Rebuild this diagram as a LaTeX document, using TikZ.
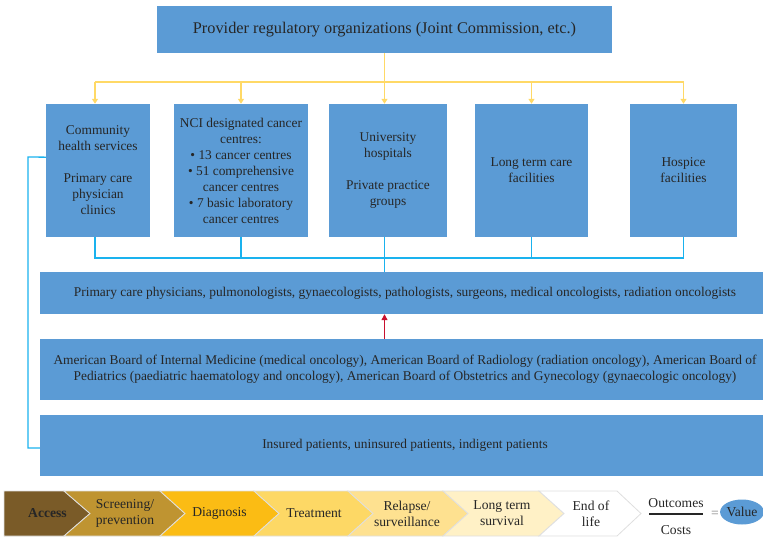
\documentclass[tikz,border=0pt]{standalone}
\usepackage{fontspec}
\setmainfont{Liberation Serif}
\usetikzlibrary{calc,shapes.geometric,arrows.meta}
\definecolor{boxblue}{HTML}{5B9BD5}
\definecolor{txt}{HTML}{262626}
\definecolor{yel}{HTML}{FFD966}
\definecolor{cyanl}{HTML}{1AB2EE}
\definecolor{redl}{HTML}{C8102E}
\definecolor{cA}{HTML}{7A5B28}
\definecolor{cB}{HTML}{BF9431}
\definecolor{cC}{HTML}{FBBC14}
\definecolor{cD}{HTML}{FDD865}
\definecolor{cE}{HTML}{FEE190}
\definecolor{cF}{HTML}{FFF1C6}
\tikzset{
  bbox/.style={fill=boxblue, draw=none, text=txt, align=center, inner sep=0pt,
    font=\fontsize{13.4}{16}\selectfont},
  yline/.style={draw=yel, line width=1.5pt},
  yarrow/.style={yline, -{Triangle[width=6pt,length=5pt]}},
  cline/.style={draw=cyanl, line width=1.3pt},
  chev/.style={draw=gray!25, line width=0.8pt},
  ctext/.style={text=txt, align=center, font=\fontsize{13.6}{16}\selectfont, inner sep=0pt},
}
\begin{document}
\begin{tikzpicture}[x=1pt,y=-1pt]
\useasboundingbox (0,0) rectangle (763,539);
% top box
\node[bbox, minimum width=455pt, minimum height=47pt, font=\fontsize{16.3}{19}\selectfont] (top) at (384.5,29.5)
  {\raisebox{3pt}{Provider regulatory organizations (Joint Commission, etc.)}};
% row of boxes
\node[bbox, minimum width=104pt, minimum height=133pt] (b1) at (98,170.5)
  {Community\\health services\\[16pt]Primary care\\physician\\clinics};
\node[bbox, minimum width=134pt, minimum height=133pt] (b2) at (241,170.5)
  {NCI designated cancer\\centres:\\\textbullet\ 13 cancer centres\\\textbullet\ 51 comprehensive\\cancer centres\\\textbullet\ 7 basic laboratory\\cancer centres};
\node[bbox, minimum width=118pt, minimum height=133pt] (b3) at (388,170.5)
  {University\\hospitals\\[16pt]Private practice\\groups};
\node[bbox, minimum width=113pt, minimum height=133pt] (b4) at (531.5,170.5)
  {Long term care\\facilities};
\node[bbox, minimum width=107pt, minimum height=133pt] (b5) at (683.5,170.5)
  {Hospice\\facilities};
% wide boxes
\node[bbox, minimum width=730pt, minimum height=42pt] (prof) at (405,293)
  {Primary care physicians, pulmonologists, gynaecologists, pathologists, surgeons, medical oncologists, radiation oncologists};
\node[bbox, minimum width=730pt, minimum height=61pt] (board) at (405,369.5)
  {American Board of Internal Medicine (medical oncology), American Board of Radiology (radiation oncology), American Board of\\Pediatrics (paediatric haematology and oncology), American Board of Obstetrics and Gynecology (gynaecologic oncology)};
\node[bbox, minimum width=730pt, minimum height=61pt] (ins) at (405,445.5)
  {Insured patients, uninsured patients, indigent patients};
% yellow connectors
\coordinate (yl) at (95,82);
\coordinate (yr) at (683.5,82);
\draw[yline] (yl) -- (yr);
\draw[yarrow] (top.south) -- (top.south |- b3.north);
\draw[yarrow] (yl) -- (yl |- b1.north);
\draw[yarrow] (b2.north |- yl) -- (b2.north);
\draw[yarrow] (b4.north |- yl) -- (b4.north);
\draw[yarrow] (yr) -- (b5.north);
% cyan connectors
\coordinate (bl) at (95,258);
\draw[cline] (bl |- b1.south) -- (bl) -- (b5.south |- bl) -- (b5.south);
\draw[cline] (b2.south) -- (b2.south |- bl);
\draw[cline] (b4.south) -- (b4.south |- bl);
\draw[cline] (top.south |- b3.south) -- (top.south |- prof.north);
\coordinate (b1p) at ($(b1.north west)!0.4!(b1.south west)$);
\coordinate (lc) at (28,157);
\coordinate (ip) at ($(ins.west)+(0,2.5)$);
\draw[cline] (b1p) -- (lc) |- (ip);
% red arrow
\draw[draw=redl, line width=1.2pt, -{Triangle[width=6pt,length=6pt]}] (top.south |- board.north) -- (top.south |- prof.south);
% chevrons
\def\yt{491}\def\yb{536}\def\ym{513.5}
\filldraw[chev, fill=cA] (4,\yt) -- (64,\yt) -- (90,\ym) -- (64,\yb) -- (4,\yb) -- cycle;
\filldraw[chev, fill=cB] (64,\yt) -- (160,\yt) -- (185,\ym) -- (160,\yb) -- (64,\yb) -- (90,\ym) -- cycle;
\filldraw[chev, fill=cC] (160,\yt) -- (254,\yt) -- (279,\ym) -- (254,\yb) -- (160,\yb) -- (185,\ym) -- cycle;
\filldraw[chev, fill=cD] (254,\yt) -- (348,\yt) -- (373,\ym) -- (348,\yb) -- (254,\yb) -- (279,\ym) -- cycle;
\filldraw[chev, fill=cE] (348,\yt) -- (443,\yt) -- (468,\ym) -- (443,\yb) -- (348,\yb) -- (373,\ym) -- cycle;
\filldraw[chev, fill=cF] (443,\yt) -- (539,\yt) -- (564,\ym) -- (539,\yb) -- (443,\yb) -- (468,\ym) -- cycle;
\filldraw[chev, fill=white] (539,\yt) -- (617,\yt) -- (641,\ym) -- (617,\yb) -- (539,\yb) -- (564,\ym) -- cycle;
\node[ctext, font=\fontsize{13.6}{16}\selectfont\bfseries] (s1) at (47.5,\ym) {Access};
\node[ctext] (s2) at (125,\ym) {Screening/\\prevention};
\node[ctext] (s3) at (219.5,\ym) {Diagnosis};
\node[ctext] (s4) at (314,\ym) {Treatment};
\node[ctext] (s5) at (407,\ym) {Relapse/\\surveillance};
\node[ctext] (s6) at (502,\ym) {Long term\\survival};
\node[ctext] (s7) at (591,\ym) {End of\\life};
% value equation
\node[ctext] (out) at (676,503) {Outcomes};
\node[ctext] (cost) at (676,530) {Costs};
\coordinate (fl) at (649,514);
\coordinate (fr) at (703,514);
\draw[line width=1.5pt, draw=txt] (fl) -- (fr);
\node[ctext, text=gray] (eq) at (715,514) {=};
\node[ellipse, fill=boxblue, minimum width=42pt, minimum height=25pt, inner sep=0pt, text=txt, font=\fontsize{13.6}{16}\selectfont] (val) at (742,512) {Value};
\end{tikzpicture}
\end{document}
